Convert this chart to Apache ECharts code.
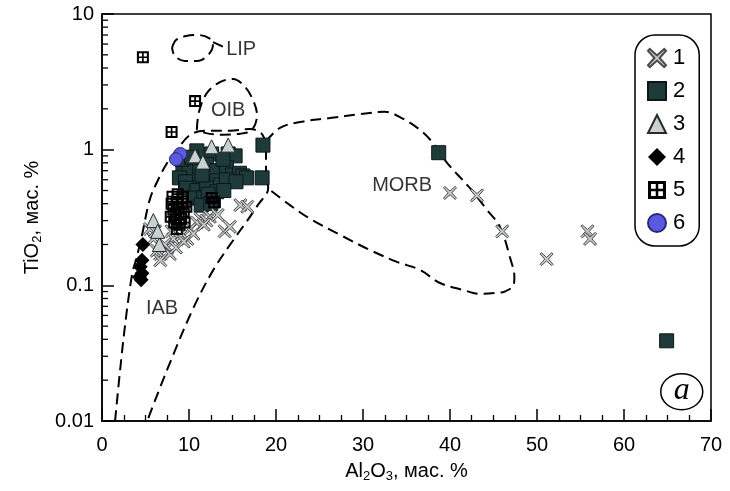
<!DOCTYPE html>
<html><head><meta charset="utf-8">
<script src="https://cdn.jsdelivr.net/npm/echarts@6/dist/echarts.min.js"></script>
<style>html,body{margin:0;padding:0;background:#fff}#c{width:730px;height:491px}</style>
</head><body><div id="c"></div>
<script>
// ---- data (Al2O3, TiO2) ----
const legendNames = ['1','2','3','4','5','6'];
const group1 = [[40.0,0.48],[43.1,0.46],[46.0,0.25],[51.1,0.156],[55.8,0.25],[56.1,0.22],
  [15.9,0.39],[16.7,0.38],[14.1,0.25],[14.7,0.27],[11.3,0.31],[12.4,0.32],[10.9,0.29],[10.1,0.26],
  [9.0,0.23],[8.2,0.22],[7.5,0.19],[6.7,0.17],[7.8,0.17],[6.7,0.153],[5.9,0.22],[5.5,0.26],[9.8,0.22],
  [10.5,0.24],[12.0,0.3],[7.2,0.2],[8.5,0.19],[9.4,0.21],[6.3,0.18],[11.7,0.28],[13.3,0.33],[8.0,0.25],[6.1,0.25]];
const group2 = [[38.7,0.95],[64.9,0.039],[18.5,1.08],[18.4,0.62],
  [10.9,0.98],[12.6,0.93],[14.5,0.93],[15.3,0.9],[9.3,0.75],[10.0,0.7],[11.2,0.75],[12.0,0.78],[13.2,0.7],
  [14.3,0.74],[15.0,0.65],[15.8,0.67],[16.2,0.64],[16.6,0.62],[8.9,0.62],[9.6,0.58],[11.2,0.6],[12.0,0.57],
  [13.2,0.59],[13.6,0.55],[14.3,0.6],[15.4,0.58],[9.7,0.52],[10.9,0.5],[12.0,0.52],[13.2,0.49],[10.5,0.44],
  [11.7,0.44],[12.8,0.42],[12.2,0.47],[11.4,0.39],[12.5,0.4],[9.2,0.85],[10.3,0.88],[13.9,0.85],[11.5,0.65],[14.0,0.5]];
const group3 = [[12.6,1.05],[14.5,1.08],[10.7,0.9],[11.6,0.81],[5.9,0.3],[6.6,0.2],[6.4,0.25]];
const group4 = [[4.7,0.2],[4.6,0.153],[4.4,0.137],[4.6,0.123],[4.5,0.11],[4.3,0.115]];
const group5 = [[4.7,4.8],[10.7,2.28],[8.0,1.35],[12.6,0.44],[12.9,0.41],
  [8.1,0.45],[8.7,0.47],[9.3,0.45],[8.0,0.4],[8.6,0.41],[9.2,0.4],[8.2,0.36],[8.8,0.37],[9.4,0.35],
  [7.9,0.32],[8.5,0.33],[9.1,0.31],[8.3,0.29],[8.9,0.28],[9.5,0.29],[8.6,0.26],[9.7,0.38]];
const group6 = [[9.0,0.93],[8.5,0.85]];

// field boundaries
const fieldIAB = [[1.5,0.01],[2.5,0.042],[3.45,0.12],[4.0,0.162],[4.6,0.235],[5.5,0.43],[6.45,0.6],[7.5,0.8],
  [8.6,0.995],[10.1,1.28],[11.8,1.38],[14.7,1.38],[17.0,1.42],[18.4,1.3],[18.85,1.0],[18.85,0.71],[19.1,0.52],
  [17.9,0.39],[16.7,0.3],[15.1,0.216],[12.8,0.13],[10.5,0.068],[7.5,0.024],[5.2,0.01]];
const fieldMORB = [[18.85,1.15],[20.46,1.45],[22.76,1.6],[26.2,1.71],[29.7,1.83],[32.5,1.9],[34.25,1.74],
  [36.55,1.4],[38.05,1.12],[39.66,0.8],[42.3,0.52],[44.25,0.36],[45.75,0.27],[46.9,0.16],[47.4,0.115],
  [47.3,0.1],[46.3,0.09],[45.4,0.088],[43.45,0.0865],[41.5,0.0925],[38.85,0.104],[36.55,0.13],[33.9,0.149],
  [30.8,0.182],[27.4,0.235],[23.9,0.31],[21.6,0.39],[19.3,0.505]];
const fieldOIB = [[10.9,1.40],[11.15,1.9],[12.07,2.62],[13.56,3.15],[15.06,3.32],[16.44,2.9],[17.36,2.32],
  [17.82,1.80],[17.24,1.40],[15.86,1.31],[13.56,1.29],[11.84,1.33],[10.9,1.40]];
const fieldLIP = [[8.05,5.62],[8.51,6.43],[9.66,6.88],[11.03,7.0],[12.3,6.65],[12.76,5.99],[12.3,5.07],
  [11.03,4.51],[9.54,4.51],[8.39,4.89],[8.05,5.62]];
const fieldLIPTail = [[12.76,6.2],[13.9,5.75]];
const fieldLabels = [{name:'LIP', value:[16.0,5.43]},{name:'OIB', value:[14.5,1.96]},
  {name:'MORB', value:[34.5,0.54]},{name:'IAB', value:[6.9,0.068]}];

// ticks
const xTickInterval = 10;
const yMinorTicks = [0.02,0.03,0.04,0.05,0.06,0.07,0.08,0.09,0.2,0.3,0.4,0.5,0.6,0.7,0.8,0.9,2,3,4,5,6,7,8,9];

const FONT = '"Liberation Sans", Arial, sans-serif';
const chart = echarts.init(document.getElementById('c'), null, {renderer:'canvas'});

const dash = {color:'#000', width:2, type:[11,6]};
function fieldLine(data){
  return {type:'line', data, showSymbol:false, symbol:'none', smooth:0.35, silent:true, z:1,
    lineStyle:dash, animation:false};
}
const crossPath = 'path://M1,0 L5,3.6 L9,0 L10,1 L6.4,5 L10,9 L9,10 L5,6.4 L1,10 L0,9 L3.6,5 L0,1 Z';
const boxPath = 'path://M0,0 L10,0 L10,10 L0,10 Z M1.7,1.7 L1.7,4.3 L4.3,4.3 L4.3,1.7 Z M5.7,1.7 L5.7,4.3 L8.3,4.3 L8.3,1.7 Z M1.7,5.7 L1.7,8.3 L4.3,8.3 L4.3,5.7 Z M5.7,5.7 L5.7,8.3 L8.3,8.3 L8.3,5.7 Z';

const option = {
  animation:false,
  backgroundColor:'#fff',
  grid:{left:102, right:19, top:14, bottom:70, show:true, borderColor:'#000', borderWidth:1.5},
  xAxis:{type:'value', min:0, max:70, interval:xTickInterval,
    axisLine:{lineStyle:{color:'#000', width:1.5}},
    axisTick:{inside:true, length:12, lineStyle:{color:'#000', width:1.5}},
    minorTick:{show:true, splitNumber:4, length:6, lineStyle:{color:'#000', width:1.3}},
    splitLine:{show:false},
    axisLabel:{color:'#000', fontSize:20, fontFamily:FONT, margin:14},
    name:'{n|Al}{s|2}{n|O}{s|3}{n|, мас. %}', nameLocation:'middle', nameGap:38,
    nameTextStyle:{color:'#000', fontFamily:FONT, fontSize:20,
      rich:{n:{fontSize:20, fontFamily:FONT, color:'#000', lineHeight:24, verticalAlign:'middle'},
            s:{fontSize:13, fontFamily:FONT, color:'#000', lineHeight:13, verticalAlign:'bottom'}}}
  },
  yAxis:{type:'log', logBase:10, min:0.01, max:10,
    axisLine:{lineStyle:{color:'#000', width:1.5}},
    axisTick:{inside:true, length:12, lineStyle:{color:'#000', width:1.5}},
    splitLine:{show:false},
    axisLabel:{color:'#000', fontSize:20, fontFamily:FONT, margin:8,
      formatter:v=>String(+(+v).toPrecision(3))},
    name:'{n|TiO}{s|2}{n|, мас. %}', nameLocation:'middle', nameGap:52, nameRotate:90,
    nameTextStyle:{color:'#000', fontFamily:FONT, fontSize:20,
      rich:{n:{fontSize:20, fontFamily:FONT, color:'#000', lineHeight:24, verticalAlign:'middle'},
            s:{fontSize:13, fontFamily:FONT, color:'#000', lineHeight:13, verticalAlign:'bottom'}}}
  },
  legend:{data:legendNames, orient:'vertical', left:635, top:35, padding:[12,14,12,12],
    itemGap:11, itemWidth:18, itemHeight:18, borderColor:'#000', borderWidth:1.5, borderRadius:20,
    backgroundColor:'#fff', selectedMode:false,
    textStyle:{color:'#000', fontSize:22, fontFamily:FONT, padding:[0,0,0,2]}},
  graphic:[{type:'group', left:660, top:373, children:[
    {type:'ellipse', shape:{cx:21, cy:18, rx:21, ry:18}, style:{fill:'#fff', stroke:'#000', lineWidth:1.5}},
    {type:'text', style:{x:21, y:17, text:'a', align:'center', verticalAlign:'middle',
      font:'italic 32px "Liberation Serif", "DejaVu Serif", serif', fill:'#000'}}
  ]}],
  series:[
    fieldLine(fieldIAB), fieldLine(fieldMORB), fieldLine(fieldOIB), fieldLine(fieldLIP), fieldLine(fieldLIPTail),
    {type:'custom', silent:true, z:3, data:yMinorTicks, renderItem:(params, api)=>{
      const p = api.coord([0, api.value(0)]);
      return {type:'line', shape:{x1:p[0], y1:p[1], x2:p[0]+6, y2:p[1]}, style:{stroke:'#000', lineWidth:1.3}};
    }, encode:{y:0}},
    {type:'scatter', name:'2', data:group2, symbol:'rect', symbolSize:14, z:4,
      itemStyle:{color:'#1e3a3a', borderColor:'#0c1818', borderWidth:1, opacity:1}},
    {type:'scatter', name:'1', data:group1, symbol:crossPath, symbolSize:13, z:5,
      itemStyle:{color:'#c6cccc', borderColor:'#4a4a4a', borderWidth:1, opacity:1}},
    {type:'scatter', name:'3', data:group3, symbol:'triangle', symbolSize:14, z:6,
      itemStyle:{color:'#c8d2d2', borderColor:'#2a2a2a', borderWidth:1, opacity:1}},
    {type:'scatter', name:'4', data:group4, symbol:'diamond', symbolSize:15, z:7,
      itemStyle:{color:'#000', opacity:1}},
    {type:'scatter', name:'5', data:group5, symbol:boxPath, symbolSize:12, z:8,
      itemStyle:{color:'#000', opacity:1}},
    {type:'scatter', name:'6', data:group6, symbol:'circle', symbolSize:13, z:9,
      itemStyle:{color:'#5a5ae0', borderColor:'#2a2a70', borderWidth:1, opacity:1}},
    {type:'scatter', data:fieldLabels, symbolSize:0, silent:true, z:10,
      label:{show:true, position:'inside', formatter:'{b}', color:'#000', fontSize:20, fontFamily:FONT}}
  ]
};
chart.setOption(option);
</script></body></html>
